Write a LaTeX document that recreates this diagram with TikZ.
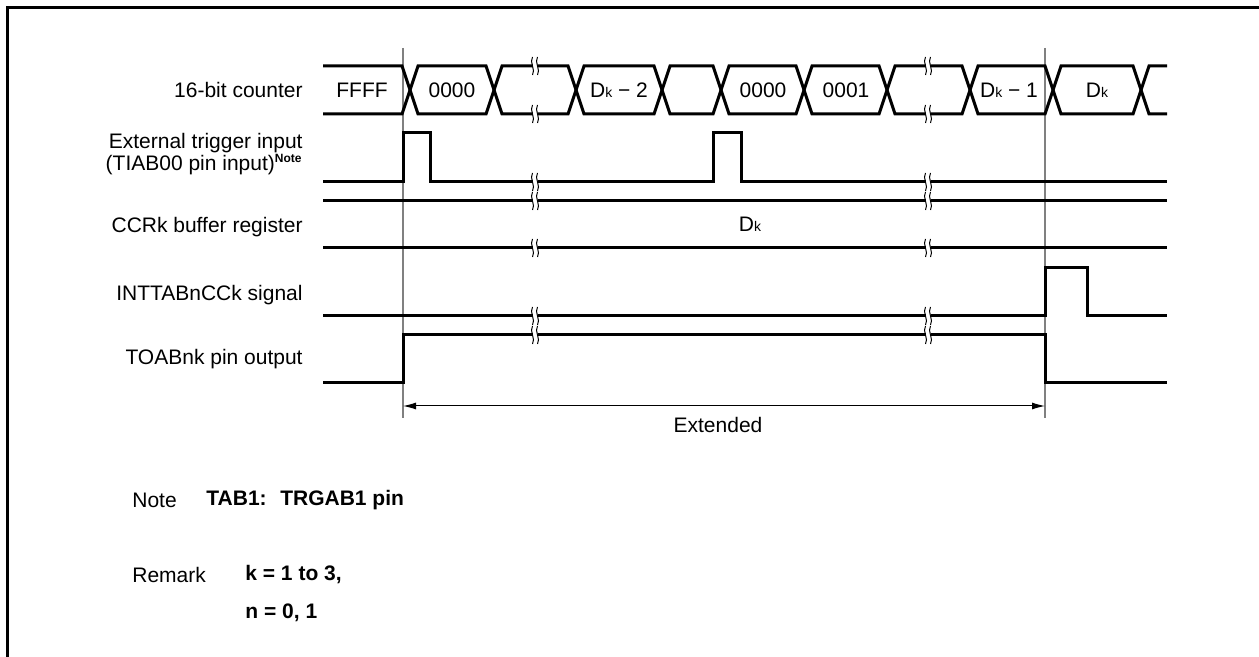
\documentclass[tikz,border=0pt]{standalone}
\usepackage{fontspec}
\setmainfont{Liberation Sans}
\usetikzlibrary{arrows.meta,positioning}

% wavy break mark on a signal line
\tikzset{brk/.pic={
  \fill[white] (-2.5,-3.5) rectangle (2.5,3.5);
  \draw[line width=0.5pt] (-2.5,-9) .. controls (-6,-4) and (1,4) .. (-2.5,9);
  \draw[line width=0.5pt] (2.5,-9) .. controls (-1,-4) and (6,4) .. (2.5,9);
}}

\begin{document}
\begin{tikzpicture}[x=0.5pt,y=-0.5pt,
  sig/.style={line width=1.5pt,line join=miter},
  guide/.style={line width=0.75pt,gray},
  lbl/.style={anchor=east,inner sep=0pt,align=right},
  busval/.style={inner sep=0pt},
  every node/.style={font=\fontsize{10.5}{11}\selectfont}]
\useasboundingbox (0,0) rectangle (1259,657);

% frame
\draw[line width=1.5pt] (1259,8) -- (7,8) -- (7,657);

% signal names
\node[lbl] (lcnt) at (303,90) {16-bit counter};
\node[lbl] (ltrg) at (303,154) {External trigger input\\(TIAB00 pin input)\textsuperscript{\fontsize{6}{7}\selectfont\bfseries Note}};
\node[lbl] (lccr) at (303,227) {CCRk buffer register};
\node[lbl] (lint) at (303,295) {INTTABnCCk signal};
\node[lbl] (ltoa) at (303,359) {TOABnk pin output};

% timing guides
\coordinate (g0top) at (403,48);
\coordinate (g0bot) at (403,418);
\coordinate (g1top) at (1045,48);
\coordinate (g1bot) at (1045,418);
\draw[guide] (g0top) -- (g0bot);
\draw[guide] (g1top) -- (g1bot);

% 16-bit counter
\draw[sig] (323,66) -- (402,66) -- (418,114) -- (486,114) -- (502,66) -- (568,66) -- (584,114) -- (654,114) -- (670,66) -- (713,66) -- (729,114) -- (796,114) -- (812,66) -- (879,66) -- (895,114) -- (962,114) -- (978,66) -- (1045,66) -- (1061,114) -- (1133,114) -- (1149,66) -- (1167,66);
\draw[sig] (323,114) -- (402,114) -- (418,66) -- (486,66) -- (502,114) -- (568,114) -- (584,66) -- (654,66) -- (670,114) -- (713,114) -- (729,66) -- (796,66) -- (812,114) -- (879,114) -- (895,66) -- (962,66) -- (978,114) -- (1045,114) -- (1061,66) -- (1133,66) -- (1149,114) -- (1167,114);
\node[busval] (cffff) at (362,90) {FFFF};
\node[busval] (c0000a) at (452,90) {0000};
\node[busval] (cdk2) at (619,90) {D{\fontsize{7}{8}\selectfont k} − 2};
\node[busval] (c0000b) at (763,90) {0000};
\node[busval] (c0001) at (846,90) {0001};
\node[busval] (cdk1) at (1009,90) {D{\fontsize{7}{8}\selectfont k} − 1};
\node[busval] (cdk) at (1097,90) {D{\fontsize{7}{8}\selectfont k}};

% external trigger
\draw[sig] (323,182) -- (403,182) -- (403,133) -- (430,133) -- (430,182) -- (713,182) -- (713,133) -- (741,133) -- (741,182) -- (1167,182);

% CCRk buffer
\draw[sig] (323,201) -- (1167,201);
\draw[sig] (323,248) -- (1167,248);
\node[busval] (rdk) at (750,224) {D{\fontsize{7}{8}\selectfont k}};

% INTTABnCCk
\draw[sig] (323,316) -- (1045,316) -- (1045,268) -- (1087,268) -- (1087,316) -- (1167,316);

% TOABnk
\draw[sig] (323,383) -- (403,383) -- (403,335) -- (1045,335) -- (1045,383) -- (1167,383);

% breaks
\foreach \bx in {535,928}
  \foreach \by in {66,114,182,201,248,316,335}
    \pic at (\bx,\by) {brk};

% extended span
\coordinate (ext0) at (403,406);
\coordinate (ext1) at (1045,406);
\draw[line width=0.5pt,{Latex[length=6.5pt,width=3.5pt]}-{Latex[length=6.5pt,width=3.5pt]}] (ext0) -- (ext1);
\node (lext) at (718,425) {Extended};

% notes
\node[anchor=west,inner sep=0pt] (nnote) at (132,500) {Note};
\node[anchor=west,inner sep=0pt,font=\fontsize{10.5}{11}\selectfont\bfseries] (nnotetxt) at (206,500) {TAB1:~ TRGAB1 pin};
\node[anchor=west,inner sep=0pt] (nrem) at (132,575) {Remark};
\node[anchor=west,inner sep=0pt,font=\fontsize{10.5}{11}\selectfont\bfseries] (nremk) at (245,575) {k = 1 to 3,};
\node[anchor=west,inner sep=0pt,font=\fontsize{10.5}{11}\selectfont\bfseries] (nremn) at (245,613) {n = 0, 1};
\end{tikzpicture}
\end{document}
